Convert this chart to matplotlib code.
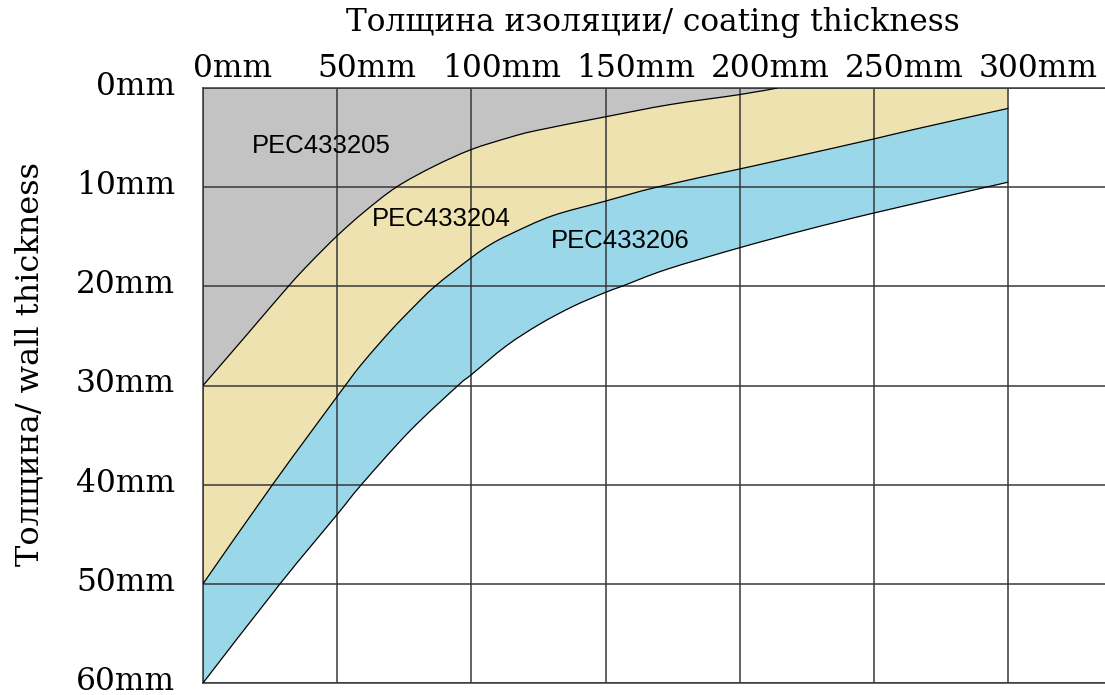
import matplotlib.pyplot as plt
from matplotlib.transforms import ScaledTranslation
from matplotlib.path import Path
from matplotlib.patches import PathPatch
import numpy as np

# boundary between PEC433205 (grey) and PEC433204 (yellow)
x1 = [0, 15, 31.8, 40, 50, 60, 72, 86, 100, 114, 124, 150, 174, 200, 214]
y1 = [30, 25.3, 20, 17.6, 14.9, 12.5, 10, 7.9, 6.2, 5.0, 4.3, 2.9, 1.67, 0.66, 0]

# boundary between PEC433204 (yellow) and PEC433206 (blue)
x2 = [0, 25.9, 53, 60, 70, 78, 86.4, 100, 107, 114, 130, 150, 169, 200, 218.5, 250, 264.5, 300]
y2 = [50, 40, 30, 27.55, 24.45, 22.2, 20, 17.1, 15.8, 14.8, 12.9, 11.4, 10.0, 8.16, 7.05, 5.13, 4.2, 2.05]

# lower boundary of PEC433206
x3 = [0, 28.7, 50, 59, 77, 95, 100, 113, 125.5, 138, 150, 156, 172.6, 200, 224.7, 250, 291.7, 300]
y3 = [60, 50, 43, 40, 34.6, 30, 28.9, 26.0, 23.8, 22.0, 20.6, 20, 18.3, 16.1, 14.3, 12.6, 10.0, 9.5]

xticks = [0, 50, 100, 150, 200, 250, 300]
yticks = [0, 10, 20, 30, 40, 50, 60]
xlabels = [f'{v}mm' for v in xticks]
ylabels = [f'{v}mm' for v in yticks]

labels = ['PEC433205', 'PEC433204', 'PEC433206']
label_pos = [(44, 5.8), (88.6, 13.2), (155.6, 15.4)]

grey = '#c3c3c3'
yellow = '#ede2b0'
blue = '#9ad8e9'
gridc = '#383838'
serif = 'DejaVu Serif'


def smooth_segs(xs, ys):
    # catmull-rom chain through the read points, as cubic bezier pieces
    p = np.column_stack([xs, ys]).astype(float)
    q = np.vstack([p[0], p, p[-1]])
    verts = []
    for i in range(1, len(q) - 2):
        c1 = q[i] + (q[i + 1] - q[i - 1]) / 6
        c2 = q[i + 1] - (q[i + 2] - q[i]) / 6
        verts += [c1, c2, q[i + 1]]
    return p[0], verts


def curve_path(xs, ys):
    start, verts = smooth_segs(xs, ys)
    return Path([start] + verts, [Path.MOVETO] + [Path.CURVE4] * len(verts))


def region(parts):
    # parts: ('curve', xs, ys) or ('line', x, y), joined into one closed outline
    verts, codes = [], []
    for part in parts:
        if part[0] == 'curve':
            start, v = smooth_segs(part[1], part[2])
            verts.append(start)
            codes.append(Path.MOVETO if not codes else Path.LINETO)
            verts += v
            codes += [Path.CURVE4] * len(v)
        else:
            verts.append((part[1], part[2]))
            codes.append(Path.LINETO)
    verts.append(verts[0])
    codes.append(Path.CLOSEPOLY)
    return Path(verts, codes)


fig = plt.figure(figsize=(11.05, 6.95), dpi=100)
ax = fig.add_axes([203 / 1105, 1 - 683 / 695, (1105 - 203) / 1105, (683 - 88) / 695])
ax.set_xlim(0, 336)
ax.set_ylim(60, 0)

ax.add_patch(PathPatch(region([('curve', x1, y1), ('line', 0, 0)]), fc=grey, lw=0, zorder=1))
ax.add_patch(PathPatch(region([('curve', x2, y2), ('line', 300, 0),
                               ('curve', x1[::-1], y1[::-1])]), fc=yellow, lw=0, zorder=1))
ax.add_patch(PathPatch(region([('curve', x3, y3), ('curve', x2[::-1], y2[::-1])]),
                       fc=blue, lw=0, zorder=1))

for xs, ys in [(x1, y1), (x2, y2), (x3, y3)]:
    ax.add_patch(PathPatch(curve_path(xs, ys), fc='none', ec='black', lw=0.9, zorder=3))

ax.set_xticks(xticks)
ax.set_yticks(yticks)
ax.grid(True, color=gridc, lw=1.1, zorder=2)
ax.set_axisbelow(False)

ax.xaxis.set_ticks_position('top')
ax.tick_params(axis='x', length=0, pad=3, labelsize=22.5, top=True, labeltop=True,
               bottom=False, labelbottom=False)
ax.tick_params(axis='y', length=0, pad=20, labelsize=22.5)
ax.set_xticklabels(xlabels, fontfamily=serif)
ax.set_yticklabels(ylabels, fontfamily=serif)
shift = ScaledTranslation(30 / 100, 0, fig.dpi_scale_trans)
for lab in ax.get_xticklabels():
    lab.set_transform(lab.get_transform() + shift)
up = ScaledTranslation(0, 5 / 100, fig.dpi_scale_trans)
for lab in ax.get_yticklabels():
    lab.set_transform(lab.get_transform() + up)

for side in ['left', 'top', 'bottom']:
    ax.spines[side].set_color(gridc)
    ax.spines[side].set_linewidth(1.1)
ax.spines['right'].set_visible(False)

for name, (lx, ly) in zip(labels, label_pos):
    ax.text(lx, ly, name, fontsize=18.5, family='Liberation Sans', ha='center', va='center', zorder=5)

fig.text(653 / 1105, 1 - 22 / 695, 'Толщина изоляции/ coating thickness', fontsize=22.5,
         family=serif, ha='center', va='center')
fig.text(30 / 1105, 1 - 364 / 695, 'Толщина/ wall thickness', fontsize=23,
         family=serif, ha='center', va='center', rotation=90)

fig.savefig('out.png', dpi=100)
